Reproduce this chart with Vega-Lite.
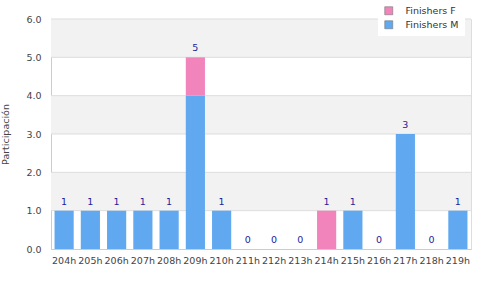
{
  "$schema": "https://vega.github.io/schema/vega-lite/v6.json",
  "width": 420,
  "height": 230,
  "autosize": {"type": "none"},
  "padding": {"left": 51, "top": 19, "right": 9, "bottom": 51},
  "background": "white",
  "config": {
    "font": "DejaVu Sans",
    "view": {"stroke": "#dddddd"},
    "axis": {"labelFont": "DejaVu Sans", "titleFont": "DejaVu Sans", "labelColor": "#444444", "titleColor": "#444444"}
  },
  "datasets": {
    "rows": [
      {"cat": "204h", "series": "Finishers M", "n": 1}, {"cat": "204h", "series": "Finishers F", "n": 0},
      {"cat": "205h", "series": "Finishers M", "n": 1}, {"cat": "205h", "series": "Finishers F", "n": 0},
      {"cat": "206h", "series": "Finishers M", "n": 1}, {"cat": "206h", "series": "Finishers F", "n": 0},
      {"cat": "207h", "series": "Finishers M", "n": 1}, {"cat": "207h", "series": "Finishers F", "n": 0},
      {"cat": "208h", "series": "Finishers M", "n": 1}, {"cat": "208h", "series": "Finishers F", "n": 0},
      {"cat": "209h", "series": "Finishers M", "n": 4}, {"cat": "209h", "series": "Finishers F", "n": 1},
      {"cat": "210h", "series": "Finishers M", "n": 1}, {"cat": "210h", "series": "Finishers F", "n": 0},
      {"cat": "211h", "series": "Finishers M", "n": 0}, {"cat": "211h", "series": "Finishers F", "n": 0},
      {"cat": "212h", "series": "Finishers M", "n": 0}, {"cat": "212h", "series": "Finishers F", "n": 0},
      {"cat": "213h", "series": "Finishers M", "n": 0}, {"cat": "213h", "series": "Finishers F", "n": 0},
      {"cat": "214h", "series": "Finishers M", "n": 0}, {"cat": "214h", "series": "Finishers F", "n": 1},
      {"cat": "215h", "series": "Finishers M", "n": 1}, {"cat": "215h", "series": "Finishers F", "n": 0},
      {"cat": "216h", "series": "Finishers M", "n": 0}, {"cat": "216h", "series": "Finishers F", "n": 0},
      {"cat": "217h", "series": "Finishers M", "n": 3}, {"cat": "217h", "series": "Finishers F", "n": 0},
      {"cat": "218h", "series": "Finishers M", "n": 0}, {"cat": "218h", "series": "Finishers F", "n": 0},
      {"cat": "219h", "series": "Finishers M", "n": 1}, {"cat": "219h", "series": "Finishers F", "n": 0}
    ],
    "bands": [{"lo": 1, "hi": 2}, {"lo": 3, "hi": 4}, {"lo": 5, "hi": 6}],
    "grid": [{"v": 1}, {"v": 2}, {"v": 3}, {"v": 4}, {"v": 5}, {"v": 6}]
  },
  "layer": [
    {
      "data": {"name": "bands"},
      "mark": {"type": "rect", "color": "#f2f2f2"},
      "encoding": {
        "y": {
          "field": "lo", "type": "quantitative", "scale": {"domain": [0, 6], "nice": false},
          "axis": {"title": "Participación", "titleFontSize": 9.5, "titleFontWeight": "normal", "titlePadding": 15, "format": ".1f", "tickCount": 6, "labelOverlap": false, "labelSeparation": 0, "labelBound": false, "labelFlush": false, "grid": false, "ticks": false, "labelFontSize": 9.5, "labelPadding": 10, "domainColor": "#cccccc"}
        },
        "y2": {"field": "hi"}
      }
    },
    {
      "data": {"name": "grid"},
      "mark": {"type": "rule", "color": "#dddddd", "strokeWidth": 1},
      "encoding": {
        "y": {"field": "v", "type": "quantitative"}
      }
    },
    {
      "data": {"name": "rows"},
      "mark": {"type": "bar"},
      "encoding": {
        "x": {
          "field": "cat", "type": "nominal", "sort": null,
          "scale": {"paddingInner": 0.27, "paddingOuter": 0.135},
          "axis": {"title": null, "labelAngle": 0, "ticks": false, "labelFontSize": 9.5, "labelPadding": 6, "domainColor": "#cccccc", "grid": false}
        },
        "y": {
          "field": "n", "type": "quantitative", "aggregate": "sum", "stack": "zero"
        },
        "color": {
          "field": "series", "type": "nominal",
          "scale": {"domain": ["Finishers F", "Finishers M"], "range": ["#f184bb", "#60a8f0"]},
          "legend": {"title": null, "orient": "none", "legendX": 327, "legendY": -19, "fillColor": "white", "padding": 6, "symbolType": "square", "symbolSize": 64, "symbolStrokeColor": "#777777", "symbolStrokeWidth": 0.6, "labelFontSize": 9.5, "labelColor": "#333333", "labelOffset": 12, "rowPadding": 3}
        },
        "order": {"field": "series", "sort": "descending"}
      }
    },
    {
      "data": {"name": "rows"},
      "transform": [{"aggregate": [{"op": "sum", "field": "n", "as": "total"}], "groupby": ["cat"]}],
      "mark": {"type": "text", "baseline": "bottom", "dy": -4, "fontSize": 9.5, "color": "#22229a"},
      "encoding": {
        "x": {"field": "cat", "type": "nominal", "sort": null},
        "y": {"field": "total", "type": "quantitative"},
        "text": {"field": "total", "type": "quantitative"}
      }
    }
  ]
}
